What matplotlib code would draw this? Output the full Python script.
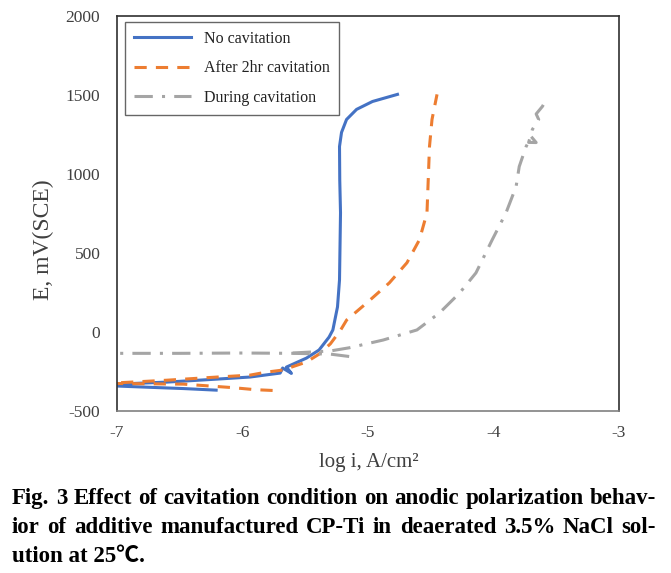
import numpy as np
from matplotlib import pyplot as plt

plt.rcParams['axes.unicode_minus'] = False

# log i (A/cm2) and E (mV vs SCE)
no_cav_logi = [-6.21, -6.47, -6.74, -7.0, -7.3, -7.0, -6.6, -6.2, -5.94, -5.70,
               -5.68, -5.61, -5.65, -5.49, -5.39, -5.31, -5.28, -5.243, -5.227,
               -5.219, -5.225, -5.227, -5.211, -5.171, -5.091, -4.964, -4.765]
no_cav_E = [-368, -358, -350, -342, -336, -330, -317, -298, -285, -260,
            -228, -262, -222, -165, -114, -32, 13, 159, 330,
            755, 960, 1174, 1263, 1345, 1409, 1459, 1504]

after_logi = [-5.76, -5.90, -6.08, -6.47, -7.0, -7.3, -7.0, -6.6, -6.2, -5.94,
              -5.81, -5.68, -5.49, -5.39, -5.30, -5.22, -5.17, -5.01, -4.83,
              -4.69, -4.59, -4.53, -4.52, -4.51, -4.49, -4.45]
after_E = [-370, -365, -352, -330, -326, -325, -322, -305, -285, -273,
           -254, -241, -190, -140, -75, 10, 76, 184, 311,
           438, 584, 755, 964, 1174, 1345, 1504]

during_cath_logi = [-5.15, -5.30, -5.60, -6.0, -6.5, -7.0]
during_cath_E = [-155, -140, -135, -133, -135, -135]
during_anod_logi = [-5.6, -5.3, -5.15, -4.88, -4.61, -4.43, -4.27, -4.14, -4.01,
                    -3.90, -3.82, -3.795, -3.74, -3.70, -3.66, -3.72, -3.69,
                    -3.64, -3.66, -3.61, -3.57]
during_anod_E = [-133, -120, -100, -51, 13, 121, 247, 374, 584,
                 755, 920, 1047, 1174, 1237, 1199, 1200, 1282,
                 1345, 1380, 1428, 1485]

serif = ['Liberation Serif', 'DejaVu Serif']

fig = plt.figure(figsize=(6.71, 5.73), dpi=100)
ax = fig.add_axes([117 / 671, 1 - 411 / 573, 502 / 671, 395 / 573])

ax.plot(no_cav_logi, no_cav_E, color='#4472C4', lw=2.2, label='No cavitation')
ax.plot(after_logi, after_E, color='#ED7D31', lw=2.2, ls=(0, (4, 3)),
        label='After 2hr cavitation')
ax.plot(during_cath_logi, during_cath_E, color='#A5A5A5', lw=2.2,
        ls=(0, (6, 3, 1, 3)), label='During cavitation')
ax.plot(during_anod_logi, during_anod_E, color='#A5A5A5', lw=2.2,
        ls=(0, (6, 3, 1, 3)))

ax.set_xlim(-7, -3)
ax.set_ylim(-500, 2000)
ax.set_xticks([-7, -6, -5, -4, -3])
ax.set_yticks([-500, 0, 500, 1000, 1500, 2000])
ax.tick_params(length=0, labelsize=12.5)
ax.tick_params(axis='x', pad=10)
ax.tick_params(axis='y', pad=12)
for lab in ax.get_xticklabels() + ax.get_yticklabels():
    lab.set_family(serif)
    lab.set_color('#404040')
for s in ['left', 'top', 'right']:
    ax.spines[s].set_color('#303030')
ax.spines['bottom'].set_color('#808080')
for s in ax.spines.values():
    s.set_linewidth(1.2)

ax.set_xlabel('log i, A/cm\u00b2', family=serif, fontsize=15, color='#404040')
ax.xaxis.set_label_coords((369 - 117) / 502, -(462 - 411) / 395)
ax.set_ylabel('E, mV(SCE)', family=serif, fontsize=17, color='#404040')
ax.yaxis.set_label_coords(-(117 - 43) / 502, (411 - 240) / 395)
ax.xaxis.label.set_va('center')
ax.yaxis.label.set_va('center')

leg = ax.legend(loc='upper left', bbox_to_anchor=(8 / 502, 1 - 6 / 395),
                borderaxespad=0, prop={'family': serif, 'size': 11.5},
                frameon=True, fancybox=False, handlelength=3.6, borderpad=0.55,
                labelspacing=0.85)
leg.get_frame().set_edgecolor('#404040')
leg.get_frame().set_linewidth(1.0)
for t in leg.get_texts():
    t.set_color('#222222')

# caption, first two lines justified between x=12 and x=656 px
caption = ['Fig. 3 Effect of cavitation condition on anodic polarization behav-',
           'ior of additive manufactured CP-Ti in deaerated 3.5% NaCl sol-',
           'ution at 25\u2103.']
cap_font = dict(family=['Liberation Serif', 'Noto Sans CJK KR', 'DejaVu Serif'],
                fontweight='bold', fontsize=16.5, va='baseline', ha='left')
renderer = fig.canvas.get_renderer()
x0, x1 = 12, 656
for i, line in enumerate(caption):
    y = 1 - (504 + 29 * i) / 573
    if i == len(caption) - 1:
        fig.text(x0 / 671, y, line, **cap_font)
        continue
    words = line.split(' ')
    texts = [fig.text(0, y, w, **cap_font) for w in words]
    widths = [t.get_window_extent(renderer).width for t in texts]
    gap = (x1 - x0 - sum(widths)) / (len(words) - 1)
    x = x0
    for t, w in zip(texts, widths):
        t.set_x(x / 671)
        x += w + gap

fig.savefig('out.png', dpi=100)
